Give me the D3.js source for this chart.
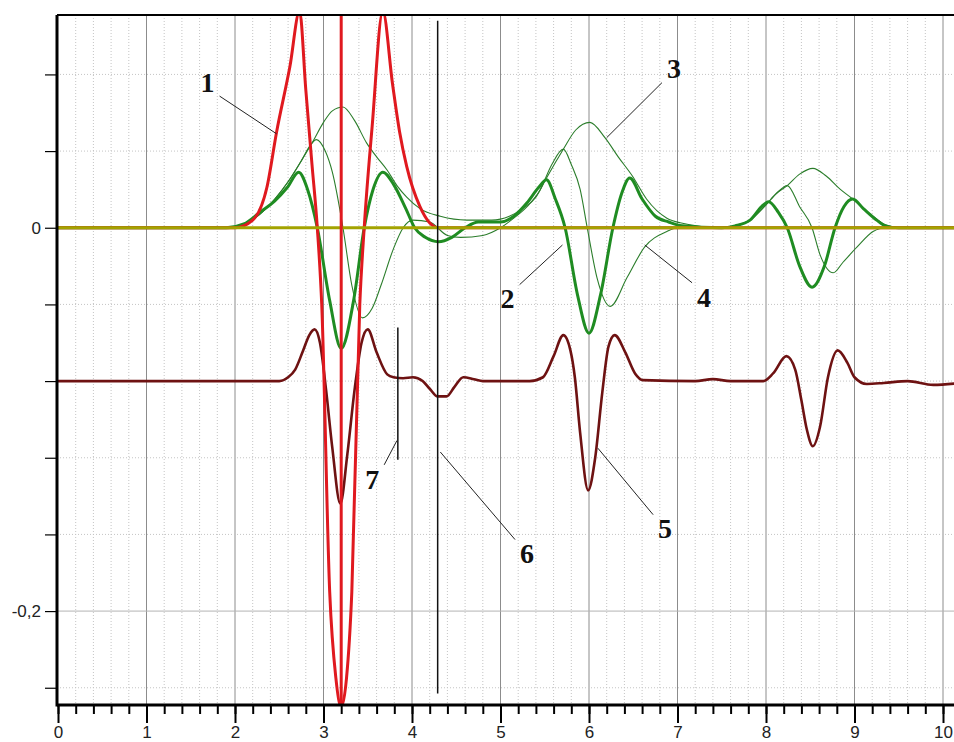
<!DOCTYPE html>
<html>
<head>
<meta charset="utf-8">
<script src="https://cdn.jsdelivr.net/npm/d3@7"></script>
<style>
  body { margin: 0; background: #fff; }
  .axis text { font-family: "Liberation Sans", Arial, sans-serif; font-size: 17px; fill: #222; }
  .axis path, .axis line { stroke: #000; }
  .mark { font-family: "Liberation Serif", "Times New Roman", serif; font-size: 28px; font-weight: bold; fill: #111; }
</style>
</head>
<body>
<svg id="chart" width="954" height="742"></svg>
<script>
// curve 1 (red)
const redX = [0, 2.0, 2.2, 2.36, 2.47, 2.62, 2.73, 2.8, 2.87, 2.93, 2.98, 3.07, 3.14, 3.2, 3.26, 3.32, 3.41, 3.46, 3.55, 3.67, 3.78, 3.86, 3.94, 4.09, 4.3, 4.5, 10.2];
const redY = [0, 0, 0.004, 0.021, 0.05, 0.084, 0.113, 0.072, 0.033, 0, -0.04, -0.19, -0.235, -0.25, -0.235, -0.19, -0.04, 0, 0.053, 0.113, 0.075, 0.05, 0.032, 0.011, 0, 0, 0];

// curve 2 (thick green)
const g2X = [0, 1.9, 2.1, 2.28, 2.45, 2.59, 2.72, 2.82, 2.93, 3.07, 3.2, 3.34, 3.46, 3.56, 3.67, 3.8, 3.93, 4.03, 4.15, 4.3, 4.45, 4.6, 4.75, 5.0, 5.15, 5.3, 5.43, 5.52, 5.62, 5.73, 5.87, 6.0, 6.13, 6.27, 6.37, 6.46, 6.6, 6.75, 6.9, 7.05, 7.5, 7.65, 7.82, 7.95, 8.03, 8.14, 8.24, 8.38, 8.52, 8.66, 8.78, 8.88, 8.98, 9.1, 9.25, 9.35, 9.5, 10.2];
const g2Y = [0, 0, 0.002, 0.008, 0.014, 0.021, 0.029, 0.02, 0, -0.038, -0.063, -0.038, 0, 0.02, 0.029, 0.022, 0.01, 0, -0.005, -0.0073, -0.005, 0, 0.003, 0.003, 0.006, 0.013, 0.021, 0.025, 0.015, 0, -0.035, -0.055, -0.035, 0, 0.018, 0.026, 0.015, 0.006, 0.003, 0.001, 0, 0.001, 0.004, 0.011, 0.0136, 0.008, 0, -0.02, -0.031, -0.02, 0, 0.011, 0.015, 0.01, 0.004, 0.001, 0, 0];

// curve 3 (thin green, envelope)
const g3X = [0, 1.9, 2.1, 2.28, 2.45, 2.6, 2.75, 2.88, 3.0, 3.1, 3.22, 3.35, 3.49, 3.6, 3.72, 3.83, 3.94, 4.09, 4.32, 4.62, 4.9, 5.1, 5.25, 5.4, 5.52, 5.62, 5.71, 5.85, 6.01, 6.18, 6.33, 6.49, 6.65, 6.88, 7.03, 7.5, 7.65, 7.82, 8.0, 8.12, 8.24, 8.38, 8.53, 8.68, 8.84, 8.98, 9.1, 9.21, 9.35, 9.5, 10.2];
const g3Y = [0, 0, 0.002, 0.007, 0.015, 0.024, 0.035, 0.045, 0.055, 0.061, 0.063, 0.056, 0.044, 0.037, 0.03, 0.022, 0.016, 0.01, 0.006, 0.004, 0.004, 0.006, 0.01, 0.016, 0.026, 0.034, 0.041, 0.051, 0.055, 0.047, 0.037, 0.027, 0.015, 0.005, 0.0026, 0, 0.001, 0.004, 0.012, 0.018, 0.022, 0.028, 0.031, 0.027, 0.02, 0.015, 0.01, 0.006, 0.0015, 0, 0];

// curve 4 (thin green, derivative)
const g4X = [0, 1.9, 2.1, 2.28, 2.45, 2.6, 2.75, 2.85, 2.92, 3.02, 3.1, 3.22, 3.32, 3.44, 3.55, 3.65, 3.79, 3.9, 4.01, 4.2, 4.4, 4.55, 4.8, 5.0, 5.15, 5.3, 5.45, 5.58, 5.71, 5.8, 5.9, 5.98, 6.09, 6.24, 6.43, 6.63, 6.88, 7.0, 7.5, 7.65, 7.82, 8.0, 8.12, 8.24, 8.38, 8.52, 8.61, 8.76, 8.87, 9.03, 9.21, 9.35, 9.5, 10.2];
const g4Y = [0, 0, 0.002, 0.007, 0.015, 0.024, 0.035, 0.043, 0.046, 0.04, 0.029, 0, -0.03, -0.047, -0.042, -0.03, -0.011, 0, 0.004, 0.003, -0.004, -0.005, -0.004, 0, 0.005, 0.011, 0.02, 0.033, 0.041, 0.033, 0.02, 0, -0.026, -0.041, -0.026, -0.01, -0.002, 0, 0, 0.001, 0.004, 0.012, 0.018, 0.022, 0.011, 0, -0.014, -0.0235, -0.018, -0.01, -0.002, 0, 0, 0];

// curve 5 (maroon, shifted)
const m5X = [0, 2.5, 2.6, 2.68, 2.77, 2.84, 2.9, 2.96, 3.03, 3.1, 3.19, 3.27, 3.35, 3.43, 3.5, 3.6, 3.72, 3.79, 3.9, 4.01, 4.12, 4.2, 4.29, 4.39, 4.48, 4.58, 4.7, 4.8, 5.33, 5.48, 5.6, 5.71, 5.79, 5.84, 5.9, 5.99, 6.07, 6.15, 6.22, 6.29, 6.41, 6.52, 6.61, 7.2, 7.4, 7.6, 7.97, 8.08, 8.23, 8.33, 8.4, 8.46, 8.53, 8.61, 8.7, 8.81, 8.92, 9.0, 9.14, 9.33, 9.6, 9.89, 10.2];
const m5Y = [-0.08, -0.08, -0.078, -0.074, -0.064, -0.056, -0.053, -0.06, -0.085, -0.115, -0.144, -0.118, -0.085, -0.06, -0.053, -0.065, -0.0765, -0.078, -0.0785, -0.078, -0.08, -0.084, -0.088, -0.088, -0.083, -0.078, -0.079, -0.08, -0.08, -0.078, -0.067, -0.056, -0.064, -0.078, -0.107, -0.137, -0.12, -0.086, -0.062, -0.056, -0.065, -0.076, -0.0795, -0.08, -0.079, -0.08, -0.08, -0.076, -0.067, -0.074, -0.09, -0.105, -0.114, -0.104, -0.078, -0.064, -0.0705, -0.078, -0.0815, -0.081, -0.08, -0.082, -0.081];

// markers 6 and 7 (vertical segments), centre line at 3.2
const centreX = 3.2;
const line6 = {x: 4.29, y0: 0.108, y1: -0.243};
const line7 = {x: 3.84, y0: -0.052, y1: -0.121};

// numbered callouts: label point and target point, in data units
const callouts = [
  {label: "1", lx: 1.69, ly: 0.076, tx: 2.47, ty: 0.049},
  {label: "2", lx: 5.08, ly: -0.037, tx: 5.7, ty: -0.009},
  {label: "3", lx: 6.96, ly: 0.083, tx: 6.2, ty: 0.047},
  {label: "4", lx: 7.3, ly: -0.036, tx: 6.63, ty: -0.009},
  {label: "5", lx: 6.86, ly: -0.157, tx: 6.1, ty: -0.115},
  {label: "6", lx: 5.3, ly: -0.17, tx: 4.32, ty: -0.117},
  {label: "7", lx: 3.55, ly: -0.131, tx: 3.83, ty: -0.111}
];

const xTicksMinor = d3.range(0, 51).map(i => i / 5);
const xTicksMajor = d3.range(0, 11);
const yTicks = [-0.24, -0.2, -0.16, -0.12, -0.08, -0.04, 0, 0.04, 0.08];
const yLabelValues = [0, -0.2];
const yLabelText = ["0", "-0,2"];

const svg = d3.select("#chart"),
  pLeft = 57, pRight = 954, pTop = 15, pBottom = 705;

const x = d3.scaleLinear().domain([0, 10]).range([58, 943]);
const y = d3.scaleLinear().domain([-0.249, 0.111]).range([pBottom, pTop]);

svg.append("defs").append("clipPath").attr("id", "plot")
  .append("rect")
    .attr("x", pLeft).attr("y", pTop)
    .attr("width", pRight - pLeft).attr("height", pBottom - pTop);

const grid = svg.append("g");

// vertical grid
grid.selectAll(".vminor")
  .data(xTicksMinor.filter(d => Math.abs(d - Math.round(d)) > 1e-6))
  .enter().append("line")
    .attr("x1", d => x(d)).attr("x2", d => x(d))
    .attr("y1", pTop).attr("y2", pBottom)
    .attr("stroke", "#c4c4c4").attr("stroke-dasharray", "1,2");

grid.selectAll(".vmajor")
  .data(xTicksMajor.filter(d => d > 0))
  .enter().append("line")
    .attr("x1", d => x(d)).attr("x2", d => x(d))
    .attr("y1", pTop).attr("y2", pBottom)
    .attr("stroke", "#8c8c8c");

// horizontal grid
grid.selectAll(".h")
  .data(yTicks)
  .enter().append("line")
    .attr("x1", pLeft).attr("x2", pRight)
    .attr("y1", d => y(d)).attr("y2", d => y(d))
    .attr("stroke", d => yLabelValues.includes(d) ? "#b4b4b4" : "#c4c4c4")
    .attr("stroke-dasharray", d => yLabelValues.includes(d) ? null : "1,2");

const plot = svg.append("g").attr("clip-path", "url(#plot)");

function series(xs, ys) { return xs.map((v, i) => [v, ys[i]]); }

const line = d3.line()
    .x(d => x(d[0]))
    .y(d => y(d[1]))
    .curve(d3.curveMonotoneX);

plot.append("path").datum(series(g3X, g3Y))
    .attr("d", line).attr("fill", "none").attr("stroke", "#2b7d2b").attr("stroke-width", 1.1);
plot.append("path").datum(series(g4X, g4Y))
    .attr("d", line).attr("fill", "none").attr("stroke", "#2b7d2b").attr("stroke-width", 1.1);
plot.append("path").datum(series(g2X, g2Y))
    .attr("d", line).attr("fill", "none").attr("stroke", "#1f8c22").attr("stroke-width", 3);
plot.append("path").datum(series(m5X, m5Y))
    .attr("d", line).attr("fill", "none").attr("stroke", "#6e1212").attr("stroke-width", 2.6);
plot.append("path").datum(series(redX, redY))
    .attr("d", line).attr("fill", "none").attr("stroke", "#e0191f").attr("stroke-width", 3);

// zero line
plot.append("line")
    .attr("x1", pLeft).attr("x2", pRight)
    .attr("y1", y(0)).attr("y2", y(0))
    .attr("stroke", "#a3a300").attr("stroke-width", 3);

// centre line
plot.append("line")
    .attr("x1", x(centreX)).attr("x2", x(centreX))
    .attr("y1", pTop).attr("y2", pBottom)
    .attr("stroke", "#e0191f").attr("stroke-width", 3);

[line6, line7].forEach(l => {
  svg.append("line")
    .attr("x1", x(l.x)).attr("x2", x(l.x))
    .attr("y1", y(l.y0)).attr("y2", y(l.y1))
    .attr("stroke", "#111").attr("stroke-width", 1.5);
});

// callouts
const co = svg.append("g");
co.selectAll("line").data(callouts).enter().append("line")
    .attr("x1", d => x(d.lx) + (d.tx > d.lx ? 12 : -12))
    .attr("y1", d => y(d.ly) + (d.ty < d.ly ? 14 : -14))
    .attr("x2", d => x(d.tx)).attr("y2", d => y(d.ty))
    .attr("stroke", "#222").attr("stroke-width", 1);
co.selectAll("text").data(callouts).enter().append("text")
    .attr("class", "mark")
    .attr("x", d => x(d.lx)).attr("y", d => y(d.ly))
    .attr("dy", "0.35em")
    .attr("text-anchor", "middle")
    .text(d => d.label);

// frame
svg.append("line")
    .attr("x1", pLeft).attr("x2", pRight).attr("y1", pTop).attr("y2", pTop)
    .attr("stroke", "#000").attr("stroke-width", 2);

// axes
const gx = svg.append("g").attr("class", "axis").attr("transform", "translate(0," + pBottom + ")");
gx.append("g").call(d3.axisBottom(x).tickValues(xTicksMinor).tickSize(9).tickFormat(""))
  .call(g => g.selectAll("line").attr("stroke-width", 2))
  .call(g => g.select(".domain").attr("d", "M" + pLeft + ",0H" + pRight).attr("stroke-width", 3));
gx.append("g").call(d3.axisBottom(x).tickValues(xTicksMajor).tickSize(18).tickFormat(d3.format("d")))
  .call(g => g.select(".domain").remove())
  .call(g => g.selectAll("line").attr("stroke-width", 2))
  .call(g => g.selectAll("text").attr("y", 21).attr("dy", "0.71em"));

const gy = svg.append("g").attr("class", "axis").attr("transform", "translate(" + pLeft + ",0)");
gy.call(d3.axisLeft(y).tickValues(yTicks).tickSize(12)
    .tickFormat(d => { const i = yLabelValues.findIndex(v => Math.abs(v - d) < 1e-9); return i < 0 ? "" : yLabelText[i]; }))
  .call(g => g.select(".domain").attr("d", "M0," + pTop + "V" + (pBottom + 1.5)).attr("stroke-width", 3))
  .call(g => g.selectAll("line").attr("stroke-width", 1.2).attr("stroke", "#555"))
  .call(g => g.selectAll("text").attr("x", -16));
</script>
</body>
</html>
